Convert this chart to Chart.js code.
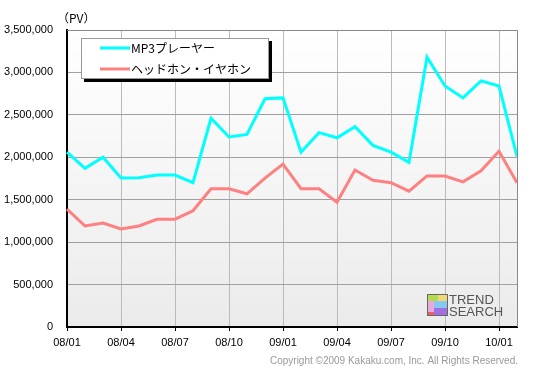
<!DOCTYPE html>
<html><head><meta charset="utf-8">
<script src="https://cdn.jsdelivr.net/npm/chart.js@4.4.0/dist/chart.umd.min.js"></script>
<style>html,body{margin:0;padding:0;background:#fff}#wrap{width:540px;height:377px;position:relative}</style>
</head><body><div id="wrap"><canvas id="c" width="540" height="377"></canvas></div>
<script>
const months = ["08/01","08/02","08/03","08/04","08/05","08/06","08/07","08/08","08/09","08/10","08/11","08/12",
"09/01","09/02","09/03","09/04","09/05","09/06","09/07","09/08","09/09","09/10","09/11","09/12","10/01","10/02"];
const shownLabels = ["08/01","08/04","08/07","08/10","09/01","09/04","09/07","09/10","10/01"];
const mp3 = [2060000,1870000,2000000,1755000,1760000,1790000,1790000,1700000,2460000,2240000,2270000,2690000,
2700000,2060000,2290000,2230000,2360000,2140000,2060000,1940000,3180000,2840000,2700000,2900000,2840000,2010000];
const headphone = [1390000,1190000,1225000,1155000,1190000,1270000,1270000,1370000,1630000,1630000,1570000,1755000,
1920000,1630000,1630000,1470000,1850000,1730000,1700000,1600000,1780000,1780000,1710000,1840000,2070000,1700000];
const seriesNames = ["MP3プレーヤー","ヘッドホン・イヤホン"];
const seriesColors = ["#00ffff","#ff8080"];
const FONT = "'Liberation Sans', Arial, sans-serif";
const JFONT = "'Noto Sans CJK JP', sans-serif";

const deco = {
  id:'deco',
  beforeDraw(chart){
    const {ctx, chartArea:a} = chart;
    ctx.save();
    const g = ctx.createLinearGradient(0,a.top,0,a.bottom);
    g.addColorStop(0,'#ffffff'); g.addColorStop(1,'#ebebeb');
    ctx.fillStyle = g;
    ctx.fillRect(a.left,a.top,a.right-a.left,a.bottom-a.top);
    ctx.restore();
  },
  afterDatasetsDraw(chart){
    const {ctx, chartArea:a} = chart;
    ctx.save();
    ctx.strokeStyle='#888'; ctx.lineWidth=1;
    ctx.beginPath(); ctx.moveTo(a.left,a.top+0.5); ctx.lineTo(a.right+0.5,a.top+0.5); ctx.lineTo(a.right+0.5,a.bottom); ctx.stroke();
    // legend box
    const lx=81, ly=38, lw=188, lh=41;
    ctx.fillStyle='#000'; ctx.fillRect(lx+3,ly+3,lw,lh);
    ctx.fillStyle='#fff'; ctx.fillRect(lx,ly,lw,lh);
    ctx.strokeStyle='#999'; ctx.strokeRect(lx+0.5,ly+0.5,lw-1,lh-1);
    ctx.font = "12px " + JFONT; ctx.textBaseline='middle'; ctx.textAlign='left';
    seriesNames.forEach((n,i)=>{
      const y = ly + 10 + i*21;
      ctx.strokeStyle = seriesColors[i]; ctx.lineWidth=3;
      ctx.beginPath(); ctx.moveTo(100,y); ctx.lineTo(130,y); ctx.stroke();
      ctx.fillStyle='#000'; ctx.fillText(n,131,y);
    });
    // logo
    const ox=427, oy=294;
    ctx.fillStyle='#b8d850'; ctx.fillRect(ox,oy,11,7);
    ctx.fillStyle='#f0d878'; ctx.fillRect(ox+11,oy,10,7);
    ctx.fillStyle='#e8a8e0'; ctx.fillRect(ox,oy+7,7,11);
    ctx.fillStyle='#88c8f0'; ctx.fillRect(ox+7,oy+7,14,7);
    ctx.fillStyle='#a070e0'; ctx.fillRect(ox+7,oy+14,14,8);
    ctx.fillStyle='#e86060'; ctx.fillRect(ox,oy+18,7,4);
    ctx.strokeStyle='#666'; ctx.lineWidth=1; ctx.strokeRect(ox+0.5,oy+0.5,20,21);
    ctx.fillStyle='#555'; ctx.font="13px "+FONT; ctx.textBaseline='middle';
    ctx.fillText('TREND',449,300); ctx.fillText('SEARCH',449,312);
    ctx.restore();
  },
  afterDraw(chart){
    const {ctx} = chart;
    ctx.save();
    ctx.fillStyle='#000'; ctx.font="12px "+JFONT; ctx.textBaseline='middle'; ctx.textAlign='left';
    ctx.fillText('（PV）',57,18);
    ctx.fillStyle='#999'; ctx.font="10px "+FONT; ctx.textAlign='right';
    ctx.fillText('Copyright ©2009 Kakaku.com, Inc. All Rights Reserved.',518,361);
    ctx.restore();
  }
};

new Chart(document.getElementById('c'),{
  type:'line',
  data:{labels:months,datasets:[
    {label:seriesNames[0],data:mp3,borderColor:seriesColors[0],borderWidth:3,pointRadius:0,tension:0},
    {label:seriesNames[1],data:headphone,borderColor:seriesColors[1],borderWidth:3,pointRadius:0,tension:0}
  ]},
  options:{
    responsive:false,animation:false,
    layout:{padding:{top:30,right:23,left:0,bottom:0}},
    plugins:{legend:{display:false},tooltip:{enabled:false}},
    scales:{
      x:{offset:false,
        grid:{color:c=>shownLabels.includes(months[c.index])?'#bbbbbb':'rgba(0,0,0,0)',
              tickColor:c=>shownLabels.includes(months[c.index])?'#000':'rgba(0,0,0,0)',tickLength:4},
        border:{color:'#000',width:2},
        ticks:{autoSkip:false,maxRotation:0,color:'#000',font:{family:FONT,size:11},padding:5,
          callback:(v,i)=>shownLabels.includes(months[i])?months[i]:''},
        afterFit:s=>{s.height=50;}
      },
      y:{min:0,max:3500000,
        grid:{color:'#a0a0a0',drawTicks:false},
        border:{color:'#000',width:2},
        ticks:{stepSize:500000,color:'#000',font:{family:FONT,size:11},padding:14,
          callback:v=>v.toLocaleString('en-US')},
        afterFit:s=>{s.width=67;}
      }
    }
  },
  plugins:[deco]
});
</script></body></html>
